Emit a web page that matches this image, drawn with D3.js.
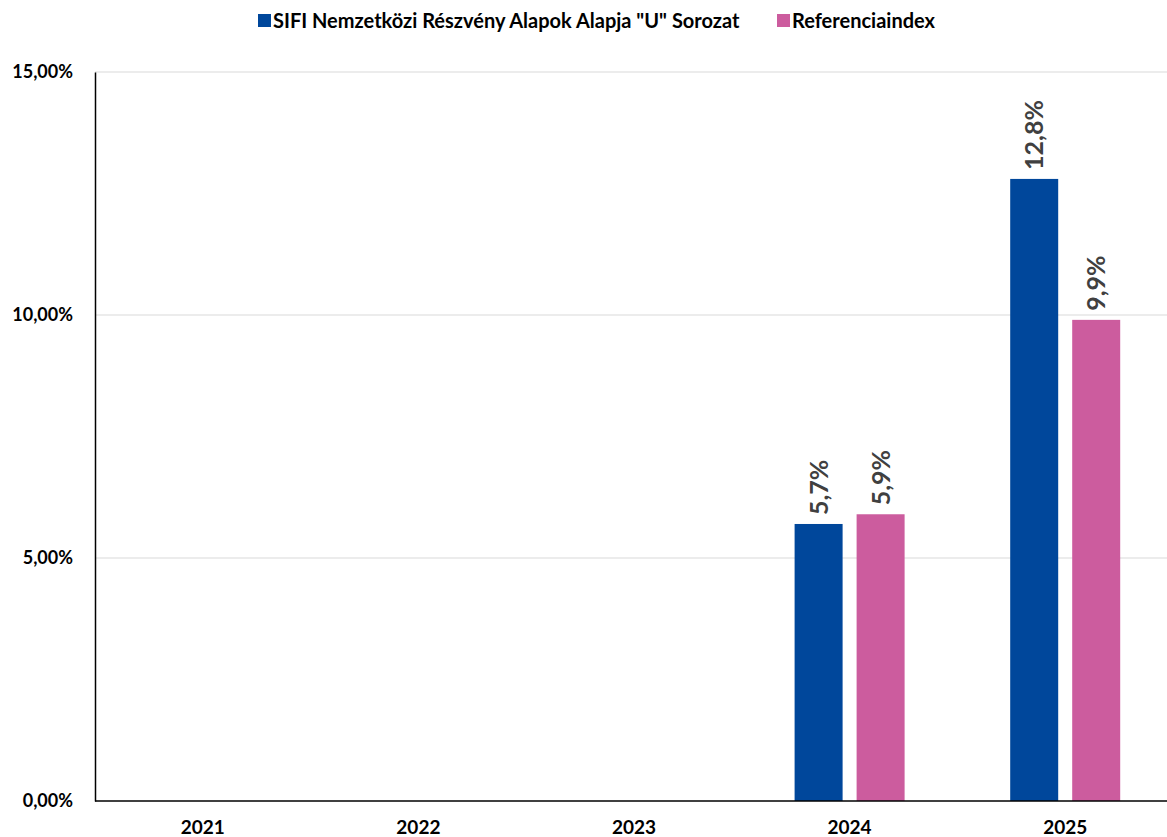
<!DOCTYPE html>
<html>
<head>
<meta charset="utf-8">
<script src="https://cdn.jsdelivr.net/npm/d3@7"></script>
<style>
  body { margin: 0; background: #fff; }
  svg { font-family: Lato, "Liberation Sans", sans-serif; }
</style>
</head>
<body>
<div id="container"></div>
<script>
const WIDTH = 1167;
const HEIGHT = 837;
const MARGIN = {top: 72, right: 0, bottom: 36, left: 95};
const INNER_WIDTH = WIDTH - MARGIN.left - MARGIN.right;
const INNER_HEIGHT = HEIGHT - MARGIN.top - MARGIN.bottom;
const FONT = "Lato, 'Liberation Sans', sans-serif";

var years = ["2021", "2022", "2023", "2024", "2025"];
var seriesNames = ['SIFI Nemzetközi Részvény Alapok Alapja "U" Sorozat', "Referenciaindex"];
var fundValues = [null, null, null, 5.7, 12.8];
var indexValues = [null, null, null, 5.9, 9.9];
var yTicks = [0, 5, 10, 15];
var colors = ["#00479b", "#cc5c9e"];

var comma = function (n, digits) {
    return n.toFixed(digits).replace(".", ",");
};

var rows = years.map(function (y, i) {
    return {year: y, values: [fundValues[i], indexValues[i]]};
});

var svg = d3.select("#container").append("svg")
    .attr("width", WIDTH)
    .attr("height", HEIGHT);

var g = svg.append("g")
    .attr("transform", "translate(" + MARGIN.left + "," + MARGIN.top + ")");

// the category band runs a little past the visible plot edge
var x = d3.scaleBand().domain(years).range([0, INNER_WIDTH + 6]);
var y = d3.scaleLinear().domain([0, 15]).range([INNER_HEIGHT, 0]);
var BAR_W = 48;
var GAP = 14;

// gridlines
g.selectAll(".grid").data(yTicks.slice(1)).enter().append("line")
    .attr("x1", 0).attr("x2", INNER_WIDTH)
    .attr("y1", function (d) { return y(d); })
    .attr("y2", function (d) { return y(d); })
    .attr("stroke", "#d9d9d9").attr("stroke-width", 1);

// y axis
var yAxis = g.append("g").call(d3.axisLeft(y).tickValues(yTicks)
    .tickSize(0).tickPadding(22)
    .tickFormat(function (d) { return comma(d, 2) + "%"; }))
    .attr("font-family", FONT);
yAxis.select(".domain").attr("stroke", "#000").attr("stroke-width", 1.5);
yAxis.selectAll("text").attr("font-size", 18).attr("font-weight", "bold").attr("fill", "#000");

// bars
var groups = g.selectAll(".yr").data(rows).enter().append("g")
    .attr("transform", function (d) { return "translate(" + (x(d.year) + x.bandwidth() / 2) + ",0)"; });

groups.each(function (d) {
    var sel = d3.select(this);
    d.values.forEach(function (v, k) {
        if (v == null) return;
        var bx = k === 0 ? -GAP / 2 - BAR_W : GAP / 2;
        sel.append("rect")
            .attr("x", bx)
            .attr("y", y(v))
            .attr("width", BAR_W)
            .attr("height", y(0) - y(v))
            .attr("fill", colors[k]);
        sel.append("text")
            .attr("transform", "translate(" + (bx + BAR_W / 2 + 9) + "," + (y(v) - 9) + ") rotate(-90)")
            .attr("font-size", 25).attr("font-weight", "bold").attr("fill", "#404040")
            .text(comma(v, 1) + "%");
    });
});

// x axis
var xAxis = g.append("g").attr("transform", "translate(0," + INNER_HEIGHT + ")")
    .call(d3.axisBottom(x).tickSize(0).tickPadding(20))
    .attr("font-family", FONT);
xAxis.select(".domain").attr("stroke", "#000").attr("stroke-width", 1.5)
    .attr("d", "M0,0H" + INNER_WIDTH);
xAxis.selectAll("text").attr("font-size", 19).attr("font-weight", "bold").attr("fill", "#000");

// legend
var legendX = [258, 777];
var legend = svg.selectAll(".legend").data(seriesNames).enter().append("g")
    .attr("transform", function (d, i) { return "translate(" + legendX[i] + ",14)"; });
legend.append("rect").attr("width", 13).attr("height", 13)
    .attr("fill", function (d, i) { return colors[i]; });
legend.append("text").attr("x", 15).attr("y", 14)
    .attr("font-size", 20).attr("font-weight", "bold").attr("fill", "#000")
    .text(function (d) { return d; });
</script>
</body>
</html>
